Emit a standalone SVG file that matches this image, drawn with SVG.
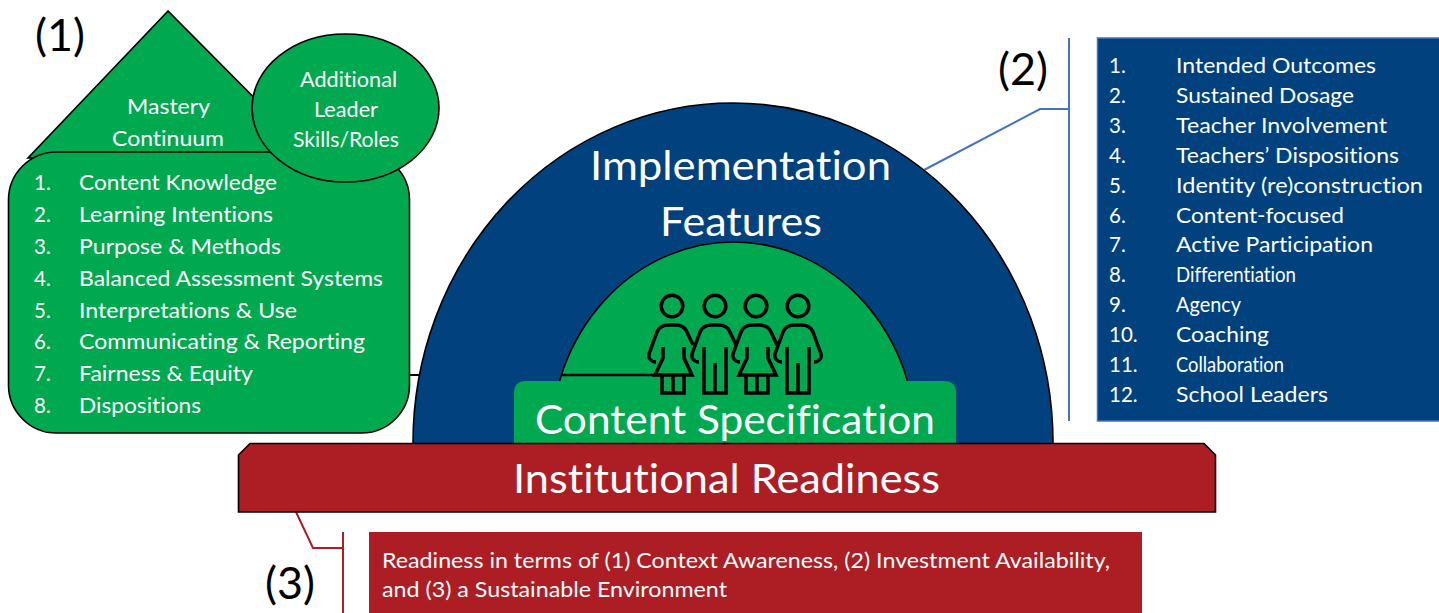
<svg xmlns="http://www.w3.org/2000/svg" width="1439" height="613" viewBox="0 0 1439 613">
<style>
text{font-family:"Lato","Carlito","Liberation Sans",sans-serif;fill:#fff;font-size:20.5px;font-variant-ligatures:none}
.k{fill:#000;font-size:45px}
.b{font-size:40px}
.o{stroke:#000;stroke-width:1.6}
.g{fill:#00A94F}.n{fill:#00417E}.r{fill:#AC1E23}
.ic{fill:none;stroke:#000;stroke-width:3.5;stroke-linejoin:miter}
</style>
<defs>
<clipPath id="dome"><rect x="400" y="90" width="660" height="353"/></clipPath>
<g id="woman" class="ic">
<circle cx="0" cy="306" r="10.800"/>
<path d="M-16 362C-21 362-24 358-23 354L-15 332C-13 327-8 325-3 325H3C8 325 13 327 15 332L21 345"/>
<path d="M-9 347V358L-17 375H20L12 358V347"/>
<path d="M-10 375V393H12V375M1 375V393"/>
</g>
<g id="man" class="ic">
<circle cx="0" cy="306" r="10.800"/>
<path d="M-16 362C-21 362-24 358-23 354L-15 332C-13 327-8 325-3 325H3C8 325 13 327 15 332L21 345"/>
<path d="M-11 347V393H11V347M0 363V393"/>
</g>
</defs>
<g id="connectors">
<path d="M410 375H425" fill="none" stroke="#000" stroke-width="2"/>
<path d="M924 170L1040 109H1069M1069 38V421" fill="none" stroke="#4472C4" stroke-width="2"/>
<path d="M296 512L313 548H343M343 532V613" fill="none" stroke="#AC1E23" stroke-width="2"/>
</g>
<g id="implementation-features">
<ellipse class="n o" cx="733" cy="443" rx="320" ry="340" clip-path="url(#dome)"/>
<text class="b" x="590" y="180" textLength="301" lengthAdjust="spacingAndGlyphs">Implementation</text>
<text class="b" x="660" y="236" textLength="162" lengthAdjust="spacingAndGlyphs">Features</text>
</g>
<g id="content-specification">
<ellipse class="g o" cx="733.500" cy="443" rx="183" ry="201" clip-path="url(#dome)"/>
<path d="M561 375H655" fill="none" stroke="#000" stroke-width="2.5"/>
<path class="g" d="M514 443V393Q514 381 526 381H944Q956 381 956 393V443Z"/>
<text class="b" x="535" y="434" textLength="400" lengthAdjust="spacingAndGlyphs">Content Specification</text>
</g>
<g id="people">
<use href="#woman" x="672"/>
<use href="#man" x="715"/>
<use href="#woman" x="756"/>
<g class="ic">
<circle cx="798" cy="306" r="10.800"/>
<path d="M782 362C777 362 774 358 775 354L783 332C785 327 790 325 795 325H801C806 325 811 327 813 332L821 354C822 358 819 362 814 362"/>
<path d="M787 347V393H809V347M798 363V393"/>
</g>
</g>
<g id="institutional-readiness">
<path class="r o" d="M238.500 455L250 443.500H1204L1215.500 455V512H238.500Z"/>
<text class="b" x="513" y="493" textLength="427" lengthAdjust="spacingAndGlyphs">Institutional Readiness</text>
</g>
<g id="mastery-continuum">
<path class="g o" d="M168 11L28 158H314Z"/>
<text x="127" y="114" textLength="83" lengthAdjust="spacingAndGlyphs">Mastery</text>
<text x="112" y="146" textLength="112" lengthAdjust="spacingAndGlyphs">Continuum</text>
</g>
<g id="mastery-list">
<rect class="g o" x="8.500" y="152" width="401" height="281" rx="48" ry="48"/>
<text x="34" y="190">1.</text><text x="79" y="190" textLength="198" lengthAdjust="spacingAndGlyphs">Content Knowledge</text>
<text x="34" y="222">2.</text><text x="79" y="222" textLength="194" lengthAdjust="spacingAndGlyphs">Learning Intentions</text>
<text x="34" y="254">3.</text><text x="79" y="254" textLength="202" lengthAdjust="spacingAndGlyphs">Purpose &amp; Methods</text>
<text x="34" y="286">4.</text><text x="79" y="286" textLength="304" lengthAdjust="spacingAndGlyphs">Balanced Assessment Systems</text>
<text x="34" y="318">5.</text><text x="79" y="318" textLength="218" lengthAdjust="spacingAndGlyphs">Interpretations &amp; Use</text>
<text x="34" y="349">6.</text><text x="79" y="349" textLength="286" lengthAdjust="spacingAndGlyphs">Communicating &amp; Reporting</text>
<text x="34" y="381">7.</text><text x="79" y="381" textLength="174" lengthAdjust="spacingAndGlyphs">Fairness &amp; Equity</text>
<text x="34" y="413">8.</text><text x="79" y="413" textLength="122" lengthAdjust="spacingAndGlyphs">Dispositions</text>
</g>
<g id="leader-skills">
<ellipse class="g o" cx="345.500" cy="108" rx="93.500" ry="74"/>
<text x="300" y="87" textLength="97" lengthAdjust="spacingAndGlyphs">Additional</text>
<text x="314" y="117" textLength="64" lengthAdjust="spacingAndGlyphs">Leader</text>
<text x="293" y="147" textLength="106" lengthAdjust="spacingAndGlyphs">Skills/Roles</text>
</g>
<g id="features-list">
<rect class="n" x="1097.500" y="38" width="343" height="383" stroke="#4472C4" stroke-width="1.500"/>
<text x="1109" y="73">1.</text><text x="1176" y="73" textLength="200" lengthAdjust="spacingAndGlyphs">Intended Outcomes</text>
<text x="1109" y="103">2.</text><text x="1176" y="103" textLength="178" lengthAdjust="spacingAndGlyphs">Sustained Dosage</text>
<text x="1109" y="133">3.</text><text x="1176" y="133" textLength="211" lengthAdjust="spacingAndGlyphs">Teacher Involvement</text>
<text x="1109" y="163">4.</text><text x="1176" y="163" textLength="223" lengthAdjust="spacingAndGlyphs">Teachers’ Dispositions</text>
<text x="1109" y="193">5.</text><text x="1176" y="193" textLength="247" lengthAdjust="spacingAndGlyphs">Identity (re)construction</text>
<text x="1109" y="223">6.</text><text x="1176" y="223" textLength="168" lengthAdjust="spacingAndGlyphs">Content-focused</text>
<text x="1109" y="252">7.</text><text x="1176" y="252" textLength="197" lengthAdjust="spacingAndGlyphs">Active Participation</text>
<text x="1109" y="282">8.</text><text x="1176" y="282" textLength="120" lengthAdjust="spacingAndGlyphs">Differentiation</text>
<text x="1109" y="312">9.</text><text x="1176" y="312" textLength="65" lengthAdjust="spacingAndGlyphs">Agency</text>
<text x="1109" y="342">10.</text><text x="1176" y="342" textLength="93" lengthAdjust="spacingAndGlyphs">Coaching</text>
<text x="1109" y="372">11.</text><text x="1176" y="372" textLength="108" lengthAdjust="spacingAndGlyphs">Collaboration</text>
<text x="1109" y="402">12.</text><text x="1176" y="402" textLength="152" lengthAdjust="spacingAndGlyphs">School Leaders</text>
</g>
<g id="readiness-note">
<rect class="r" x="369" y="532" width="773" height="81"/>
<text x="382" y="568" textLength="728" lengthAdjust="spacingAndGlyphs">Readiness in terms of (1) Context Awareness, (2) Investment Availability,</text>
<text x="382" y="597" textLength="345" lengthAdjust="spacingAndGlyphs">and (3) a Sustainable Environment</text>
</g>
<g id="labels">
<text class="k" x="35" y="51" textLength="50" lengthAdjust="spacingAndGlyphs">(1)</text>
<text class="k" x="998" y="85" textLength="50" lengthAdjust="spacingAndGlyphs">(2)</text>
<text class="k" x="265" y="599" textLength="50" lengthAdjust="spacingAndGlyphs">(3)</text>
</g>
</svg>
